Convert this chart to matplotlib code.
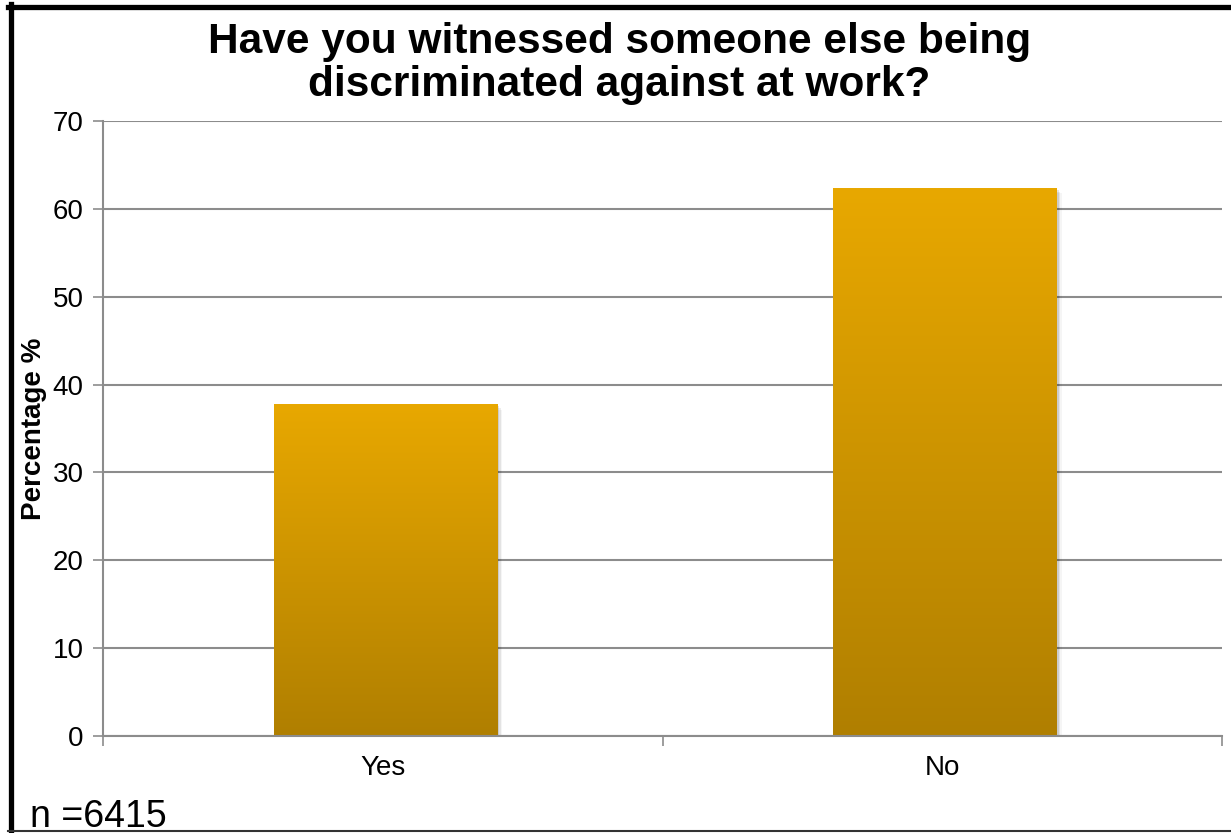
import numpy as np
import matplotlib
matplotlib.use("Agg")
import matplotlib.pyplot as plt
from matplotlib.colors import LinearSegmentedColormap
from matplotlib.patches import Rectangle
from matplotlib.lines import Line2D

categories = ["Yes", "No"]
percentages = [37.7, 62.3]
y_ticks = [0, 10, 20, 30, 40, 50, 60, 70]
title = "Have you witnessed someone else being\ndiscriminated against at work?"
sample_note = "n =6415"

plt.rcParams['font.family'] = ['Liberation Sans', 'DejaVu Sans']

fig = plt.figure(figsize=(12.31, 8.33), dpi=100)
ax = fig.add_axes([103 / 1231, 1 - 736 / 833, 1119 / 1231, 615 / 833])

grey = "#8c8c8c"
cmap = LinearSegmentedColormap.from_list("gold", ["#b07f00", "#e8a800"])
grad = np.linspace(0, 1, 256).reshape(-1, 1)
bar_w = 0.4
x = np.arange(len(categories))

for xi, val in zip(x, percentages):
    x0 = xi - bar_w / 2 + 0.005
    # soft shadow
    for k, a in enumerate([0.10, 0.07, 0.04]):
        dx = 0.003 * (k + 1)
        dy = 0.18 * (k + 1)
        ax.add_patch(Rectangle((x0 + dx, -dy), bar_w, val, facecolor="black",
                               edgecolor="none", alpha=a, zorder=2))
    ax.imshow(grad, extent=[x0, x0 + bar_w, 0, val], origin="lower",
              cmap=cmap, aspect="auto", zorder=3)

ax.set_xlim(-0.5, 1.5)
ax.set_ylim(0, 70)
ax.set_yticks(y_ticks)
ax.set_xticks(x)
ax.set_xticklabels(categories)
ax.set_xticks([-0.5, 0.5, 1.5], minor=True)
ax.tick_params(axis="x", which="major", length=0, pad=14, labelsize=20)
ax.tick_params(axis="x", which="minor", length=7, color=grey, width=1.2)
ax.tick_params(axis="y", length=7, color=grey, width=1.2, labelsize=20, pad=7)
ax.yaxis.grid(True, color=grey, linewidth=1.5)
ax.set_axisbelow(True)
for s in ["top", "right"]:
    ax.spines[s].set_visible(False)
for s in ["left", "bottom"]:
    ax.spines[s].set_color(grey)
    ax.spines[s].set_linewidth(1.5)
ax.spines["bottom"].set_zorder(5)

ax.set_ylabel("Percentage %", fontsize=20, fontweight="bold", labelpad=4)
fig.text(0.503, 0.974, title, ha="center", va="top", fontsize=30.5,
         fontweight="bold", linespacing=1.12)
fig.text(30 / 1231, 6 / 833, sample_note, ha="left", va="baseline", fontsize=27)

# chart frame
fig.add_artist(Line2D([8 / 1231, 1], [1 - 6.5 / 833] * 2, color="black", lw=3.8,
                      transform=fig.transFigure))
fig.add_artist(Line2D([10.5 / 1231] * 2, [0, 1 - 4 / 833], color="black", lw=3.8,
                      transform=fig.transFigure))
fig.add_artist(Line2D([8 / 1231, 1], [2 / 833] * 2, color="#333333", lw=1.5,
                      transform=fig.transFigure))

fig.savefig("out.png", dpi=100)
